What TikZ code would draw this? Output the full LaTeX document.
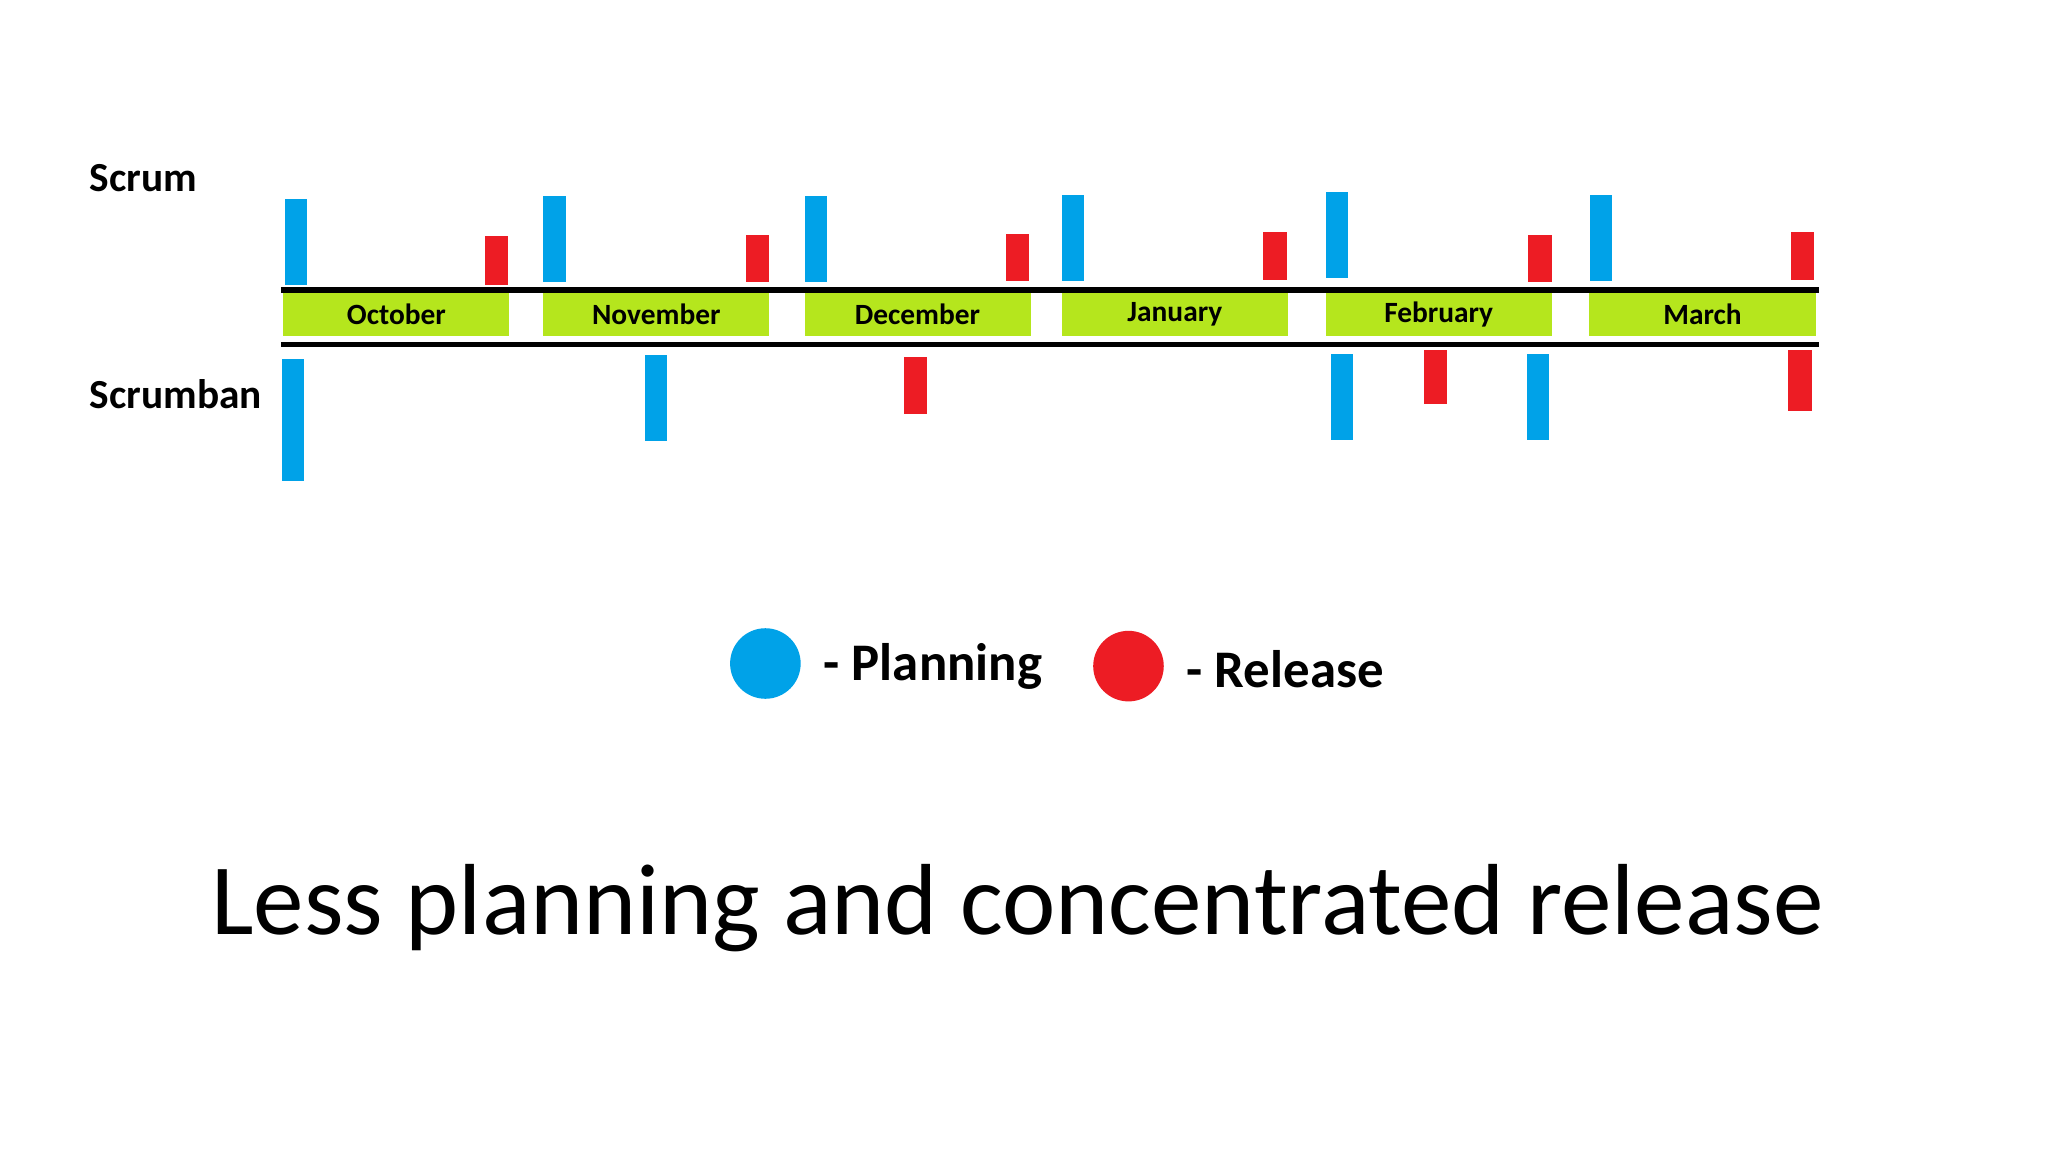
\documentclass[tikz,border=0pt]{standalone}
\usepackage{fontspec}
\setmainfont{Carlito}
\definecolor{pblue}{HTML}{00A2E8}
\definecolor{pred}{HTML}{ED1C24}
\definecolor{pgreen}{HTML}{B5E61D}
\begin{document}
\begin{tikzpicture}[x=0.01cm,y=-0.01cm,
  bb/.style={fill=pblue,draw=none},
  rb/.style={fill=pred,draw=none},
  month/.style={fill=pgreen,draw=none,minimum width=1.73cm,minimum height=0.33cm,inner sep=0pt,font=\fontsize{6.4pt}{7pt}\selectfont\bfseries},
  lbl/.style={anchor=west,inner sep=0pt,font=\fontsize{9pt}{10pt}\selectfont\bfseries},
  axis/.style={line width=0.04cm}]
\useasboundingbox[fill=white] (0,0) rectangle (1568,882);
\node[lbl] (scrum) at (68,136) {Scrum};
\node[lbl] (scrumban) at (68,302) {Scrumban};
\coordinate (t1) at (215,222); \coordinate (t2) at (1393,222);
\coordinate (b1) at (215,264); \coordinate (b2) at (1393,264);
\draw[axis] (t1) -- (t2);
\draw[axis] (b1) -- (b2);
\foreach \x/\m/\n in {303.5/October/oct,502.5/November/nov,702.5/December/dec,899.5/January/jan,1101.5/February/feb,1303.5/March/mar}
  \node[month] (\n) at (\x,240.5) {\m};
% Scrum bars
\foreach \x/\a/\b in {218/152/218,416/150/216,616/150/216,813/149/215,1015/147/213,1217/149/215}
  \fill[bb] (\x,\a) rectangle ++(17,\b-\a);
\foreach \x/\a/\b in {371/181/218,571/180/216,770/179/215,967/178/214,1170/180/216,1371/178/214}
  \fill[rb] (\x,\a) rectangle ++(18,\b-\a);
% Scrumban bars
\foreach \x/\a/\b in {216/275/368,494/272/338,1019/271/337,1169/271/337}
  \fill[bb] (\x,\a) rectangle ++(17,\b-\a);
\foreach \x/\a/\b in {692/273/317,1090/268/309,1369/268/315}
  \fill[rb] (\x,\a) rectangle ++(18,\b-\a);
% legend
\fill[pblue] (586,508) circle[radius=0.27cm];
\node[anchor=west,inner sep=0pt,font=\fontsize{11.5pt}{13pt}\selectfont\bfseries] (plan) at (630,510) {- Planning};
\fill[pred] (864,510) circle[radius=0.27cm];
\node[anchor=west,inner sep=0pt,font=\fontsize{11.5pt}{13pt}\selectfont\bfseries] (rel) at (908,512) {- Release};
\node[font=\fontsize{22pt}{26pt}\selectfont] (title) at (779,695) {Less planning and concentrated release};
\end{tikzpicture}
\end{document}
